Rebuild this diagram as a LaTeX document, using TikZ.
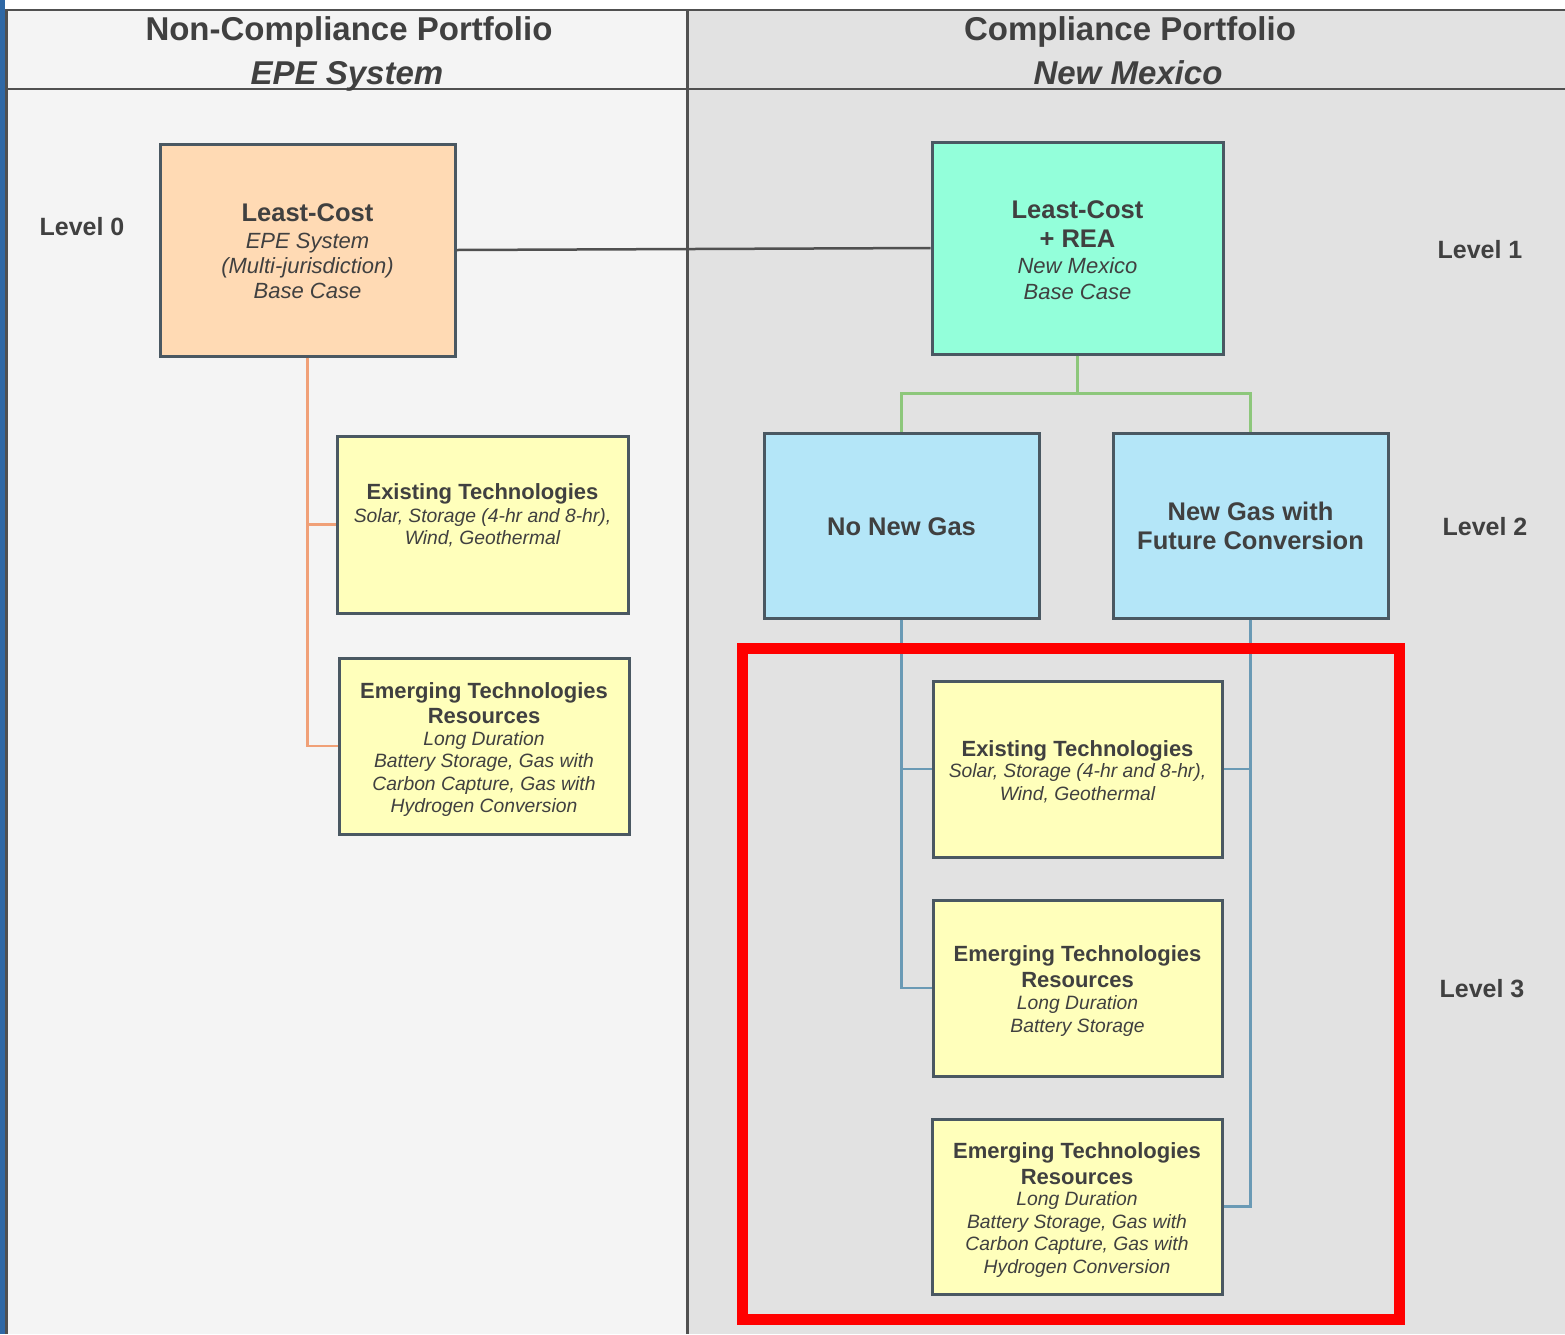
\documentclass[tikz,border=0pt]{standalone}
\usepackage{fontspec}
\setmainfont{Liberation Sans}
\usetikzlibrary{positioning}

\definecolor{ink}{HTML}{404040}
\definecolor{frame}{HTML}{505050}
\definecolor{leftbg}{HTML}{F4F4F4}
\definecolor{rightbg}{HTML}{E2E2E2}
\definecolor{edgeblue}{HTML}{2F68A5}
\definecolor{boxedge}{HTML}{4A5862}
\definecolor{peach}{HTML}{FFDAB4}
\definecolor{mint}{HTML}{93FFDA}
\definecolor{sky}{HTML}{B4E6F8}
\definecolor{lemon}{HTML}{FFFFBB}
\definecolor{orline}{HTML}{F0A077}
\definecolor{grline}{HTML}{8DC77B}
\definecolor{blline}{HTML}{6A9AB5}
\definecolor{alarm}{HTML}{FF0000}

\tikzset{
  box/.style={draw=boxedge, line width=3pt, inner sep=0pt},
  hdr/.style={font=\bfseries\fontsize{33}{40}\selectfont, text=ink, anchor=base, inner sep=0pt},
  hdri/.style={font=\bfseries\itshape\fontsize{33}{40}\selectfont, text=ink, anchor=base, inner sep=0pt},
  lvl/.style={font=\bfseries\fontsize{25}{30}\selectfont, text=ink, anchor=base, inner sep=0pt},
  tbig/.style={font=\bfseries\fontsize{25.5}{30}\selectfont, text=ink, anchor=base, inner sep=0pt},
  ibig/.style={font=\itshape\fontsize{22}{26}\selectfont, text=ink, anchor=base, inner sep=0pt},
  tmid/.style={font=\bfseries\fontsize{22}{26}\selectfont, text=ink, anchor=base, inner sep=0pt},
  imid/.style={font=\itshape\fontsize{19.3}{23}\selectfont, text=ink, anchor=base, inner sep=0pt},
  link/.style={line width=2.5pt},
}

\begin{document}
\begin{tikzpicture}[x=1pt, y=-1pt]
\useasboundingbox (0,0) rectangle (1565,1334);
\fill[white] (0,0) rectangle (1565,1334);

% panels
\fill[leftbg] (7,10) rectangle (687,1334);
\fill[rightbg] (687,10) rectangle (1565,1334);
\fill[edgeblue] (0,0) rectangle (4.5,1334);
\draw[frame, line width=2.5pt] (6.5,1334) -- (6.5,10) -- (1565,10);
\draw[frame, line width=2.5pt] (6.5,89) -- (1565,89);
\draw[frame, line width=2.5pt] (687.5,10) -- (687.5,1334);

% column headings
\node[hdr]  (h1a) at (349,40) {Non-Compliance Portfolio};
\node[hdri] (h1b) at (347,84) {EPE System};
\node[hdr]  (h2a) at (1130,40) {Compliance Portfolio};
\node[hdri] (h2b) at (1128,84) {New Mexico};

% level labels
\node[lvl] (lv0) at (82,235) {Level 0};
\node[lvl] (lv1) at (1480,258) {Level 1};
\node[lvl] (lv2) at (1485,535) {Level 2};
\node[lvl] (lv3) at (1482,997) {Level 3};

% boxes
\node[box, fill=peach, minimum width=295, minimum height=212] (lc0) at (307.5,250) {};
\node[box, fill=mint,  minimum width=291, minimum height=212] (rea) at (1077.5,248) {};
\node[box, fill=lemon, minimum width=291, minimum height=177] (exl) at (482.5,524.5) {};
\node[box, fill=lemon, minimum width=290, minimum height=176] (eml) at (484,746) {};
\node[box, fill=sky,   minimum width=275, minimum height=185] (nng) at (901.5,525.5) {};
\node[box, fill=sky,   minimum width=275, minimum height=185] (ngf) at (1250.5,525.5) {};
\node[box, fill=lemon, minimum width=289, minimum height=176] (exr) at (1077.5,769) {};
\node[box, fill=lemon, minimum width=289, minimum height=176] (em2) at (1077.5,988) {};
\node[box, fill=lemon, minimum width=290, minimum height=175] (em3) at (1077,1206.5) {};

% connectors
\draw[link, frame] (lc0.east) -- (rea.west);
\draw[link, orline] (lc0.south) |- (eml.west);
\draw[link, orline] (lc0.south |- exl.west) -- (exl.west);
\draw[link, grline] (rea.south) -- ++(0,38) coordinate (fork) -| (nng.north);
\draw[link, grline] (fork) -| (ngf.north);
\draw[link, blline] (nng.south) |- (em2.west);
\draw[link, blline] (nng.south |- exr.west) -- (exr.west);
\draw[link, blline] (ngf.south) |- (em3.east);
\draw[link, blline] (ngf.south |- exr.east) -- (exr.east);

% box texts
\node[tbig] (lc0a) at (307.5,221) {Least-Cost};
\node[ibig] (lc0b) at (307.5,248) {EPE System};
\node[ibig] (lc0c) at (307.5,273) {(Multi-jurisdiction)};
\node[ibig] (lc0d) at (307.5,298) {Base Case};

\node[tbig] (reaa) at (1077.5,218) {Least-Cost};
\node[tbig] (reab) at (1077.5,247) {+ REA};
\node[ibig] (reac) at (1077.5,273) {New Mexico};
\node[ibig] (read) at (1077.5,299) {Base Case};

\node[tmid] (exla) at (482.5,499) {Existing Technologies};
\node[imid] (exlb) at (482.5,522) {Solar, Storage (4-hr and 8-hr),};
\node[imid] (exlc) at (482.5,544) {Wind, Geothermal};

\node[tmid] (emla) at (484,698) {Emerging Technologies};
\node[tmid] (emlb) at (484,723) {Resources};
\node[imid] (emlc) at (484,745) {Long Duration};
\node[imid] (emld) at (484,767) {Battery Storage, Gas with};
\node[imid] (emle) at (484,790) {Carbon Capture, Gas with};
\node[imid] (emlf) at (484,812) {Hydrogen Conversion};

\node[tbig] (nnga) at (901.5,535) {No New Gas};
\node[tbig] (ngfa) at (1250.5,520) {New Gas with};
\node[tbig] (ngfb) at (1250.5,549) {Future Conversion};

\node[tmid] (exra) at (1077.5,756) {Existing Technologies};
\node[imid] (exrb) at (1077.5,777) {Solar, Storage (4-hr and 8-hr),};
\node[imid] (exrc) at (1077.5,800) {Wind, Geothermal};

\node[tmid] (em2a) at (1077.5,961) {Emerging Technologies};
\node[tmid] (em2b) at (1077.5,987) {Resources};
\node[imid] (em2c) at (1077.5,1009) {Long Duration};
\node[imid] (em2d) at (1077.5,1032) {Battery Storage};

\node[tmid] (em3a) at (1077,1158) {Emerging Technologies};
\node[tmid] (em3b) at (1077,1184) {Resources};
\node[imid] (em3c) at (1077,1205) {Long Duration};
\node[imid] (em3d) at (1077,1228) {Battery Storage, Gas with};
\node[imid] (em3e) at (1077,1250) {Carbon Capture, Gas with};
\node[imid] (em3f) at (1077,1273) {Hydrogen Conversion};

% highlight frame around level 3
\draw[alarm, line width=11pt] (742,648) rectangle (1399,1319);
\end{tikzpicture}
\end{document}
